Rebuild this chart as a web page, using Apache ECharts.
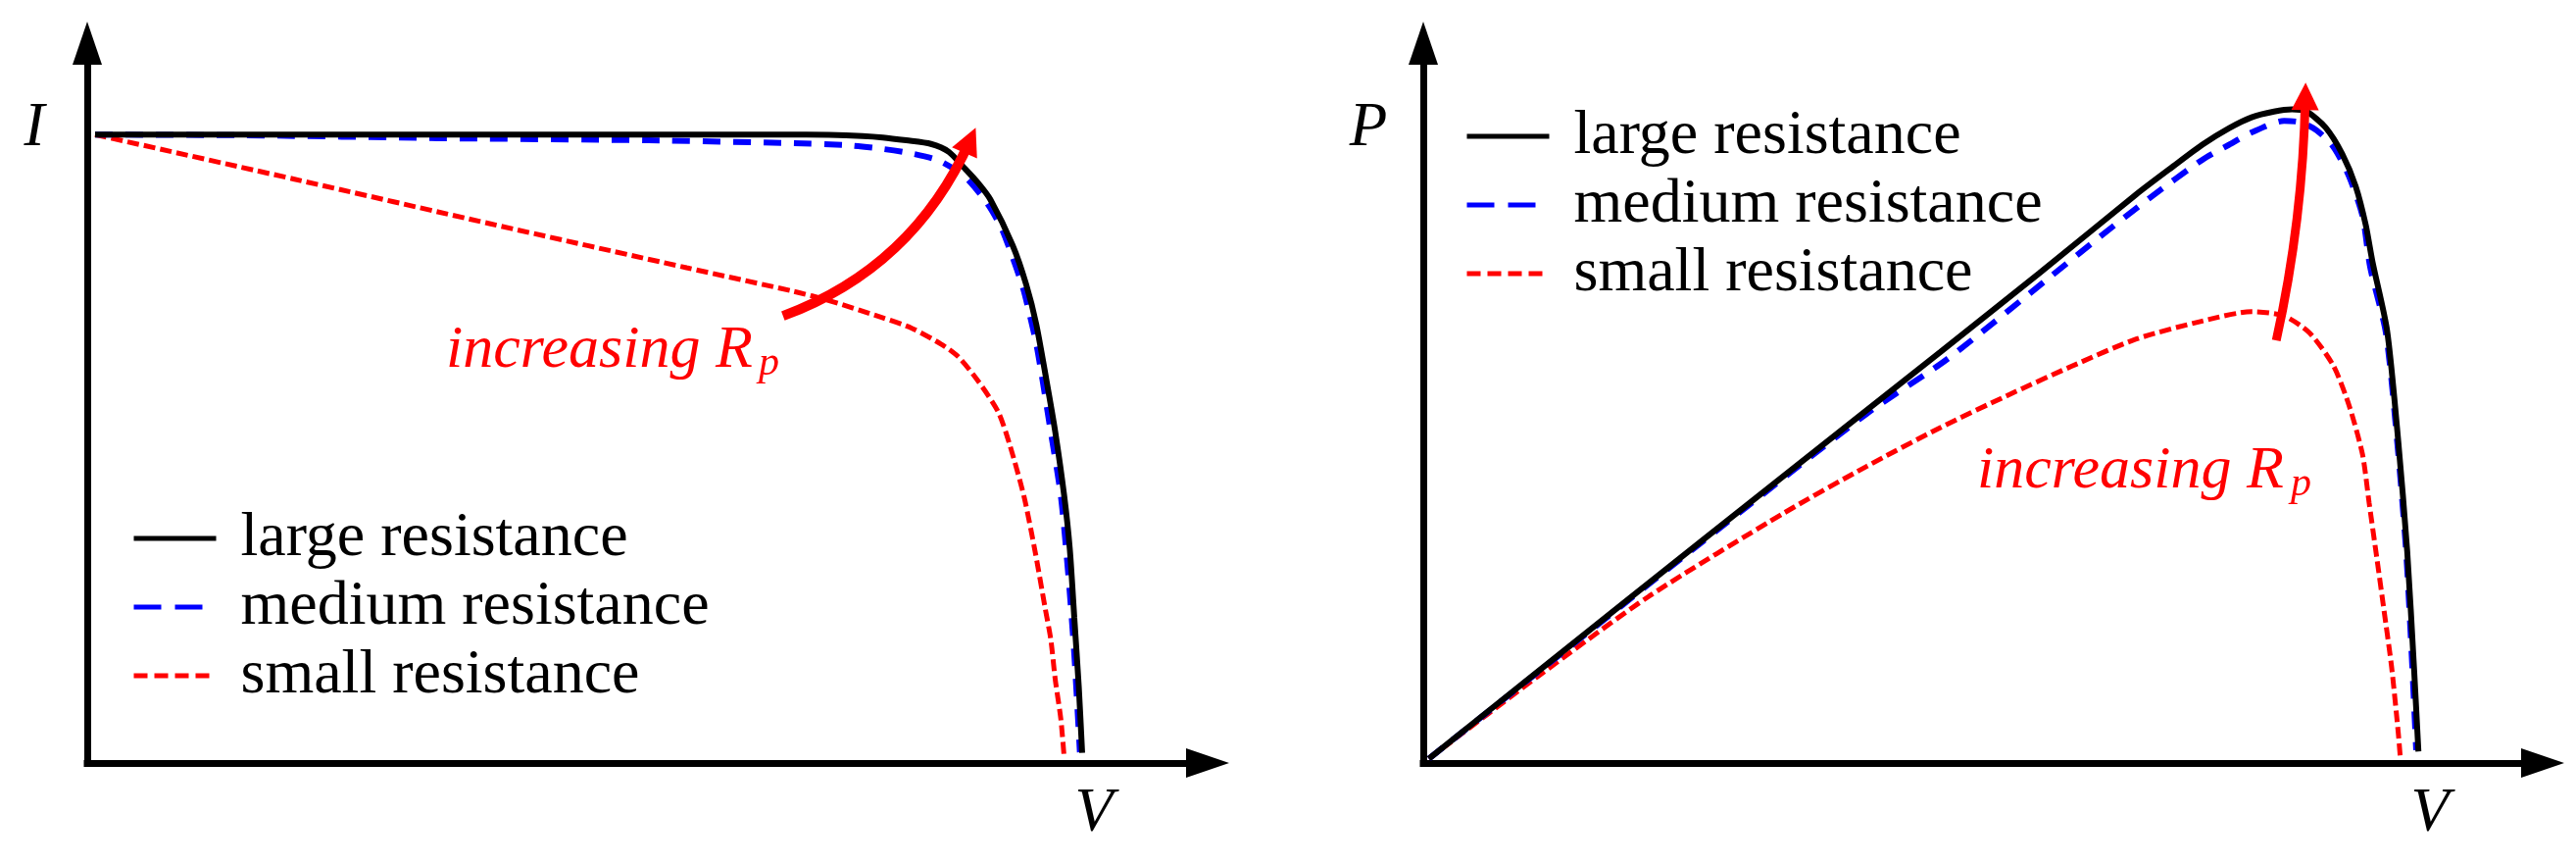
<!DOCTYPE html>
<html>
<head>
<meta charset="utf-8">
<script src="https://cdn.jsdelivr.net/npm/echarts@6/dist/echarts.min.js"></script>
<style>
    html, body { margin: 0; padding: 0; background: #fff; }
    #chart { width: 2628px; height: 882px; }
</style>
</head>
<body>
<div id="chart"></div>
<script>
// I-V curves, [V, I] in relative units (axis 0..100)
const ivLarge = [[0.7, 87.3], [20, 87.3], [44.7, 87.3], [62.2, 87.3], [66.2, 87.25], [69.2, 87.1], [71.0, 86.9], [73.1, 86.5], [75.3, 86.0], [76.9, 84.9], [78.2, 82.8], [79.5, 80.6], [80.6, 78.3], [82.6, 71.9], [83.8, 66.5], [84.7, 61.0], [85.6, 53.3], [86.4, 46.0], [87.2, 37.1], [87.7, 29.7], [88.1, 20.2], [88.5, 10.6], [88.8, 1.4]];
const ivMedium = [[0.7, 87.3], [14.1, 87.2], [31.3, 86.8], [50.1, 86.5], [63.1, 86.1], [68.0, 85.8], [71.0, 85.3], [73.5, 84.7], [76.0, 83.7], [78.3, 81.5], [80.3, 77.8], [81.6, 74.3], [82.6, 70.2], [83.5, 66.1], [84.1, 62.4], [84.7, 58.3], [85.2, 53.8], [86.0, 46.0], [86.9, 37.1], [87.6, 25.5], [88.1, 15.1], [88.6, 1.5]];
const ivSmall = [[0.7, 87.3], [18.5, 81.1], [36.0, 74.9], [53.5, 68.8], [63.1, 65.5], [66.3, 64.2], [70.9, 61.9], [73.6, 60.4], [76.2, 58.2], [77.7, 56.5], [79.5, 53.1], [81.3, 48.8], [82.3, 44.4], [83.6, 37.1], [84.6, 29.4], [85.5, 21.5], [86.0, 17.2], [86.4, 11.6], [86.9, 6.1], [87.2, 0.7]];

// P-V curves, [V, P]
const pvLarge = [[0.5, 0.6], [10.3, 12.8], [25.0, 31.0], [39.6, 49.0], [46.2, 57.1], [55.0, 68.0], [63.7, 79.0], [67.0, 82.9], [69.6, 85.9], [72.0, 88.2], [74.0, 89.7], [76.0, 90.5], [77.6, 90.8], [78.9, 90.5], [80.6, 88.3], [82.1, 84.6], [83.3, 80.1], [84.2, 74.7], [84.8, 69.6], [86.1, 60.1], [87.1, 44.7], [87.9, 29.4], [88.5, 13.4], [88.9, 1.6]];
const pvMedium = [[0.5, 0.6], [10.3, 12.7], [25.0, 30.8], [39.6, 48.5], [46.8, 56.1], [55.9, 67.4], [60.2, 72.8], [64.9, 78.5], [69.6, 83.8], [72.0, 85.9], [74.0, 87.6], [76.9, 89.2], [78.4, 89.0], [79.8, 87.9], [81.3, 85.6], [82.7, 81.5], [83.9, 76.0], [84.6, 68.8], [86.0, 59.7], [87.0, 44.7], [87.8, 29.4], [88.35, 13.4], [88.7, 1.8]];
const pvSmall = [[0.5, 0.6], [10.3, 12.1], [20.2, 23.2], [32.3, 34.8], [39.6, 41.2], [46.2, 46.6], [52.1, 51.0], [57.9, 55.1], [63.7, 58.9], [69.6, 61.4], [74.0, 62.7], [76.9, 62.1], [79.2, 59.7], [81.3, 55.2], [82.7, 49.7], [83.9, 42.9], [84.5, 36.1], [85.2, 28.3], [85.8, 21.5], [86.5, 13.4], [87.1, 4.2], [87.3, 0.4]];

// "increasing Rp" arrows: [tail, head] in axis units
const ivArrow = [[62.1, 62.1], [78.8, 86.5]];
const pvArrow = [[76.2, 58.7], [78.8, 92.6]];

const seriesNames = ["large resistance", "medium resistance", "small resistance"];
const seriesColors = ["#000000", "#0000ff", "#ff0000"];
const plotDash = ["solid", [18, 13], [12, 5]];
const legendDash = ["solid", [28, 14], [14, 7]];
const plotWidth = [6, 6, 5];

const FONT = "Liberation Serif, DejaVu Serif, serif";

function makeAxis(gridIndex) {
    return {
        gridIndex: gridIndex,
        type: "value",
        min: 0,
        max: 100,
        axisLine: {
            show: true,
            onZero: false,
            symbol: ["none", "triangle"],
            symbolSize: [30, 44],
            lineStyle: { color: "#000", width: 7, cap: "square" }
        },
        axisTick: { show: false },
        axisLabel: { show: false },
        splitLine: { show: false }
    };
}

function makeCurves(gridIndex, sets) {
    return sets.map((data, i) => ({
        name: seriesNames[i],
        type: "line",
        xAxisIndex: gridIndex,
        yAxisIndex: gridIndex,
        data: data,
        symbol: "none",
        smooth: 0.25,
        z: 3 - i,
        lineStyle: { color: seriesColors[i], width: plotWidth[i], type: plotDash[i] },
        itemStyle: { color: seriesColors[i] }
    }));
}

function makeArrow(gridIndex, coords, curveness, width) {
    return {
        type: "lines",
        coordinateSystem: "cartesian2d",
        xAxisIndex: gridIndex,
        yAxisIndex: gridIndex,
        z: 5,
        symbol: ["none", "triangle"],
        symbolSize: [27, 28],
        lineStyle: { color: "#ff0000", width: width, curveness: curveness, opacity: 1 },
        data: [{ coords: coords }]
    };
}

function makeLegend(left, top) {
    return {
        orient: "vertical",
        left: left,
        top: top,
        padding: 0,
        itemGap: 0,
        itemWidth: 84,
        itemHeight: 20,
        selectedMode: false,
        itemStyle: { opacity: 0 },
        lineStyle: { width: 5 },
        textStyle: { fontFamily: FONT, fontSize: 64, lineHeight: 70, color: "#000", padding: [0, 0, 0, 20] },
        data: seriesNames.map((name, i) => ({
            name: name,
            lineStyle: { color: seriesColors[i], width: 5, type: legendDash[i] }
        }))
    };
}

function label(text, x, y, size, align, color) {
    return {
        type: "text",
        x: x,
        y: y,
        z: 10,
        style: {
            text: text,
            fontFamily: FONT,
            fontStyle: "italic",
            fontSize: size,
            fill: color || "#000",
            align: align || "center",
            verticalAlign: "middle"
        }
    };
}

const chart = echarts.init(document.getElementById("chart"), null, { renderer: "canvas" });
chart.setOption({
    backgroundColor: "#ffffff",
    animation: false,
    grid: [
        { left: 89, top: 44, width: 1143, height: 734 },
        { left: 1452, top: 44, width: 1142, height: 734 }
    ],
    xAxis: [makeAxis(0), makeAxis(1)],
    yAxis: [makeAxis(0), makeAxis(1)],
    legend: [makeLegend(134, 514), makeLegend(1494, 104)],
    series: [
        ...makeCurves(0, [ivLarge, ivMedium, ivSmall]),
        ...makeCurves(1, [pvLarge, pvMedium, pvSmall]),
        makeArrow(0, ivArrow, -0.21, 10),
        makeArrow(1, pvArrow, -0.05, 9)
    ],
    graphic: [
        label("I", 35, 131, 63),
        label("V", 1116, 830, 64),
        label("P", 1396, 131, 63),
        label("V", 2479, 830, 64),
        label("increasing R", 455, 358, 62, "left", "#ff0000"),
        label("p", 774, 371, 42, "left", "#ff0000"),
        label("increasing R", 2017, 481, 62, "left", "#ff0000"),
        label("p", 2337, 494, 42, "left", "#ff0000")
    ]
});
window.addEventListener("resize", () => chart.resize());
</script>
</body>
</html>
